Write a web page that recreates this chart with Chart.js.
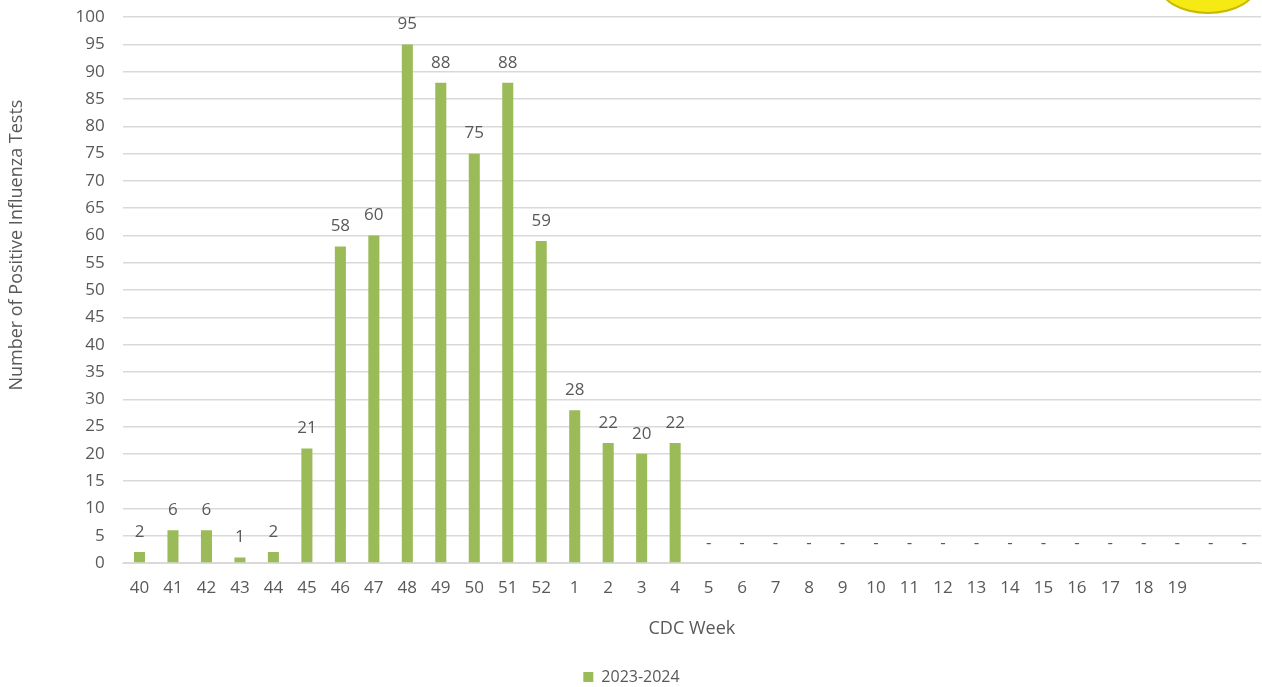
<!DOCTYPE html>
<html>
<head>
<meta charset="utf-8">
<script src="https://cdn.jsdelivr.net/npm/chart.js@4"></script>
<style>
  body { margin: 0; background: #fff; overflow: hidden; }
  #wrap { position: relative; width: 1262px; height: 687px; overflow: hidden; }
  #fluChart { position: absolute; left: 0; top: -11px; }
  #logo { position: absolute; left: 1158px; top: -46px; width: 96px; height: 56px;
          border-radius: 50%; background: #f5ea14; border: 2px solid #c9b800; }
</style>
</head>
<body>
<div id="wrap">
  <canvas id="fluChart" width="1262" height="706"></canvas>
  <div id="logo"></div>
</div>
<script>
// CDC weeks (last two slots have no label)
const weeks = ['40','41','42','43','44','45','46','47','48','49','50','51','52',
  '1','2','3','4','5','6','7','8','9','10','11','12','13','14','15','16','17','18','19','',''];
// positive tests per week, 2023-2024 season (0 = no data yet, shown as "-")
const positives = [2,6,6,1,2,21,58,60,95,88,75,88,59,28,22,20,22,
  0,0,0,0,0,0,0,0,0,0,0,0,0,0,0,0,0];
const yTicks = { min: 0, max: 100, step: 5 };

const textColor = '#595959';
const fontFam = '"Open Sans", "Noto Sans", sans-serif';

// draws the value above each bar, "-" where there is nothing
const barLabels = {
  id: 'barLabels',
  afterDatasetsDraw(chart) {
    const ctx = chart.ctx;
    const meta = chart.getDatasetMeta(0);
    ctx.save();
    ctx.fillStyle = textColor;
    ctx.font = '17px ' + fontFam;
    ctx.textAlign = 'center';
    ctx.textBaseline = 'middle';
    meta.data.forEach((bar, i) => {
      const v = positives[i];
      ctx.fillText(v ? String(v) : '-', bar.x, bar.y - 20);
    });
    ctx.restore();
  }
};

const config = {
  type: 'bar',
  data: {
    labels: weeks,
    datasets: [{
      label: '2023-2024',
      data: positives,
      backgroundColor: '#9bbb59',
      borderWidth: 0,
      barPercentage: 0.33,
      categoryPercentage: 1
    }]
  },
  options: {
    responsive: false,
    animation: false,
    layout: { padding: { top: 0, right: 1, left: 2, bottom: 0 } },
    plugins: {
      tooltip: { enabled: false },
      legend: {
        position: 'bottom',
        labels: { color: textColor, font: { family: fontFam, size: 16 }, boxWidth: 10, boxHeight: 10, padding: 0 }
      }
    },
    scales: {
      x: {
        grid: { display: false },
        border: { color: '#d9d9d9' },
        ticks: { color: textColor, font: { family: fontFam, size: 17 }, maxRotation: 0, autoSkip: false, padding: 7 },
        title: { display: true, text: 'CDC Week', color: textColor, font: { family: fontFam, size: 18 }, padding: { top: 13, bottom: 29 } }
      },
      y: {
        min: yTicks.min,
        max: yTicks.max,
        grid: { color: '#d9d9d9', lineWidth: 1.5, drawTicks: false },
        border: { display: false },
        ticks: { stepSize: yTicks.step, color: textColor, font: { family: fontFam, size: 17 }, padding: 18 },
        title: { display: true, text: '\u2003\u2003\u2003\u2003\u2003Number of Positive Influenza Tests', color: textColor, font: { family: fontFam, size: 18 }, padding: { bottom: 30 } }
      }
    }
  },
  plugins: [barLabels]
};

const fluChart = new Chart(document.getElementById('fluChart').getContext('2d'), config);
</script>
</body>
</html>
